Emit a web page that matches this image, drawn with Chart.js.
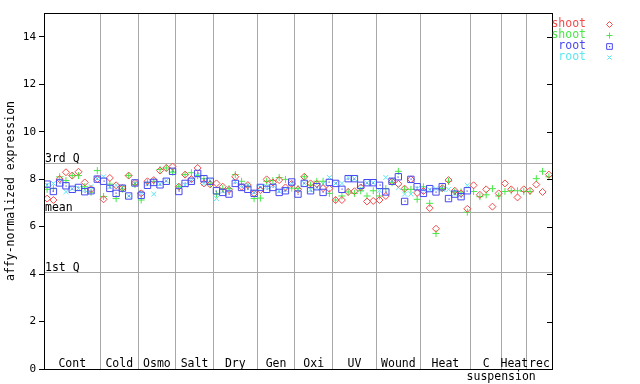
<!DOCTYPE html>
<html><head><meta charset="utf-8">
<script src="https://cdn.jsdelivr.net/npm/chart.js@4/dist/chart.umd.min.js"></script>
<style>html,body{margin:0;padding:0;background:#fff}canvas{display:block}</style>
</head><body>
<canvas id="c" width="640" height="384"></canvas>
<script>
// ---- data ----
const groupNames = ["Cont","Cold","Osmo","Salt","Dry","Gen","Oxi","UV","Wound","Heat","C\nsuspension","Heat","rec"];
const groupSizes = [9,6,6,6,7,6,6,7,7,8,5,4,4];
const yTicks = [0,2,4,6,8,10,12,14];
const quartileNames = ["3rd Q","mean","1st Q"];
const quartileValues = [8.70,6.63,4.09];
const seriesNames = ["shoot","shoot","root","root"];

const shootRep1 = [
  7.18,7.12,8.00,8.29,8.15,8.31,7.86,7.58,8.00,
  7.15,8.05,7.74,7.62,8.15,7.84,
  7.40,7.91,7.96,8.36,8.47,8.53,
  7.68,8.19,8.00,8.47,7.82,7.78,
  7.82,7.68,7.55,8.10,7.68,7.75,7.40,
  7.54,7.99,7.86,7.96,7.65,7.80,
  7.57,8.10,7.82,7.80,7.62,7.60,
  7.12,7.12,7.46,7.49,7.65,7.06,7.08,
  7.12,7.29,7.90,7.80,7.60,7.99,7.42,
  7.50,6.78,5.91,7.62,7.96,7.51,7.40,6.75,
  7.74,7.34,7.57,6.84,7.40,
  7.82,7.57,7.23,7.57,
  7.51,7.77,7.46,8.19];
const shootRep2 = [
  7.57,7.60,8.10,7.94,8.15,8.15,7.68,7.45,8.36,
  7.27,7.79,7.18,7.58,8.15,7.77,
  7.12,7.85,7.91,8.41,8.47,8.30,
  7.68,8.19,8.27,8.15,8.02,7.80,
  7.37,7.60,7.60,8.19,7.91,7.68,7.18,
  7.20,7.91,7.94,8.07,7.99,7.62,
  7.60,8.10,7.75,7.91,7.91,7.40,
  7.12,7.29,7.46,7.40,7.51,7.29,7.51,
  7.29,7.60,7.85,8.33,7.57,7.57,7.15,
  7.68,6.98,5.71,7.60,7.91,7.46,7.46,6.61,
  7.48,7.26,7.34,7.60,7.29,
  7.48,7.51,7.51,7.48,
  7.48,8.02,8.33,8.10];
const rootRep1 = [
  7.79,7.48,7.84,7.72,7.57,7.65,7.47,7.51,8.00,
  7.91,7.61,7.40,7.62,7.29,7.84,
  7.32,7.74,7.86,7.76,7.91,8.33,
  7.48,7.82,7.91,8.24,8.02,7.91,
  7.51,7.44,7.37,7.82,7.65,7.57,7.40,
  7.65,7.57,7.65,7.44,7.51,7.88,
  7.37,7.82,7.51,7.68,7.44,7.86,
  7.82,7.57,8.02,8.02,7.74,7.85,7.85,
  7.74,7.46,7.91,8.10,7.06,7.99,7.68,
  7.40,7.60,7.46,7.68,7.18,7.37,7.26,7.51];
const rootRep2 = [
  7.75,7.82,7.95,7.47,7.60,7.60,7.55,7.68,8.03,
  8.10,7.68,7.74,7.64,7.29,7.80,
  7.44,7.80,7.37,7.80,7.93,8.35,
  7.72,7.75,7.93,8.15,7.82,7.95,
  7.18,7.50,7.60,7.90,7.74,7.75,7.45,
  7.65,7.68,7.75,7.50,7.55,7.85,
  7.57,7.82,7.55,7.64,7.80,8.07,
  7.82,7.82,8.07,8.02,7.57,7.85,7.85,
  7.51,8.07,7.95,7.65,7.37,7.37,7.60,
  7.55,7.55,7.60,7.57,7.57,7.40,7.35,7.74];

// ---- build ----
const FONT = "'DejaVu Sans Mono', monospace";
const nSamples = groupSizes.reduce((a,b)=>a+b,0);
const bounds = [0];
groupSizes.forEach(s=>bounds.push(bounds[bounds.length-1]+s));
const toXY = arr => arr.map((v,i)=>({x:i+0.5,y:v}));
const colors = ['#f24a4a','#48e848','#4848f2','#5ee8f0'];
const styles = ['rectRot','cross','rect','crossRot'];
const radii = [3.5,3.5,4.5,3.5];
const seriesData = [shootRep1,shootRep2,rootRep1,rootRep2];

const datasets = seriesData.map((arr,k)=>({
  label: seriesNames[k],
  data: toXY(arr),
  showLine:false,
  pointStyle: styles[k],
  pointRadius: radii[k],
  pointBorderColor: colors[k],
  pointBackgroundColor: 'rgba(0,0,0,0)',
  pointBorderWidth: 1,
  order: k===2 ? 0 : 1
}));

const overlay = {
  id:'overlay',
  beforeDatasetsDraw(chart){
    const {ctx, chartArea:a, scales:{x,y}} = chart;
    ctx.save();
    ctx.strokeStyle='#a8a8a8'; ctx.lineWidth=1;
    ctx.font = "11.5px " + FONT;
    ctx.fillStyle='#000';
    ctx.textAlign='left'; ctx.textBaseline='alphabetic';
    quartileValues.forEach((q,i)=>{
      const py = Math.round(y.getPixelForValue(q))+0.5;
      ctx.beginPath(); ctx.moveTo(a.left,py); ctx.lineTo(a.right,py); ctx.stroke();
      ctx.fillText(quartileNames[i], a.left+1, py-2);
    });
    ctx.textAlign='center';
    groupNames.forEach((name,i)=>{
      const cx = x.getPixelForValue((bounds[i]+bounds[i+1])/2);
      const lines = name.split('\n');
      ctx.textBaseline='middle';
      ctx.fillText(lines[0], cx, a.bottom-5);
      if(lines[1]) ctx.fillText(lines[1], cx+15, a.bottom+8);
    });
    ctx.restore();
  },
  afterDatasetsDraw(chart){
    const ctx = chart.ctx;
    const meta = chart.getDatasetMeta(2);
    ctx.save();
    ctx.fillStyle = colors[2];
    meta.data.forEach(p=>{ if(!p.skip) ctx.fillRect(Math.round(p.x)-0.5, Math.round(p.y)-0.5, 1.2, 1.2); });
    ctx.restore();
  },
  afterDraw(chart){
    const {ctx, chartArea:a, scales:{y}} = chart;
    ctx.save();
    ctx.strokeStyle='#000'; ctx.lineWidth=1;
    ctx.strokeRect(Math.round(a.left)+0.5, Math.round(a.top)+0.5, Math.round(a.right-a.left), Math.round(a.bottom-a.top));
    yTicks.forEach(v=>{
      const py = Math.round(y.getPixelForValue(v))+0.5;
      ctx.beginPath(); ctx.moveTo(a.right-5,py); ctx.lineTo(a.right,py); ctx.stroke();
    });
    ctx.font = "11.5px " + FONT;
    ctx.textAlign='right'; ctx.textBaseline='middle';
    seriesNames.forEach((name,k)=>{
      const ly = 24 + k*11;
      ctx.fillStyle = colors[k];
      ctx.fillText(name, 586, ly);
      ctx.strokeStyle = colors[k];
      ctx.fillStyle = 'rgba(0,0,0,0)';
      ctx.lineWidth = 1;
      Chart.helpers.drawPoint(ctx, {pointStyle:styles[k], radius:radii[k]-0.5, borderWidth:1, rotation:0}, 609.5, ly+0.5);
      if(k===2){ ctx.fillStyle = colors[k]; ctx.fillRect(609, ly, 1.2, 1.2); }
    });
    ctx.restore();
  }
};

new Chart(document.getElementById('c'), {
  type:'scatter',
  data:{datasets},
  options:{
    responsive:false,
    animation:false,
    devicePixelRatio:1,
    layout:{padding:{top:13,right:88,left:0,bottom:0}},
    plugins:{legend:{display:false}, tooltip:{enabled:false}},
    scales:{
      x:{
        type:'linear', min:0, max:nSamples,
        afterBuildTicks(s){ s.ticks = bounds.map(v=>({value:v})); },
        afterFit(s){ s.height = 15; },
        ticks:{display:false},
        grid:{color:'#a8a8a8', lineWidth:1, drawTicks:false},
        border:{display:false}
      },
      y:{
        type:'linear', min:0, max:15,
        afterBuildTicks(s){ s.ticks = yTicks.map(v=>({value:v})); },
        afterFit(s){ s.width = 44; },
        ticks:{color:'#000', font:{family:FONT,size:11}, padding:3},
        grid:{display:true, drawOnChartArea:false, drawTicks:true, tickLength:5, color:'#000'},
        border:{display:true,color:'#000'},
        title:{display:true, text:'affy-normalized expression', color:'#000', font:{family:FONT,size:11.5}, padding:{top:4,bottom:0}}
      }
    }
  },
  plugins:[overlay]
});
</script>
</body></html>
